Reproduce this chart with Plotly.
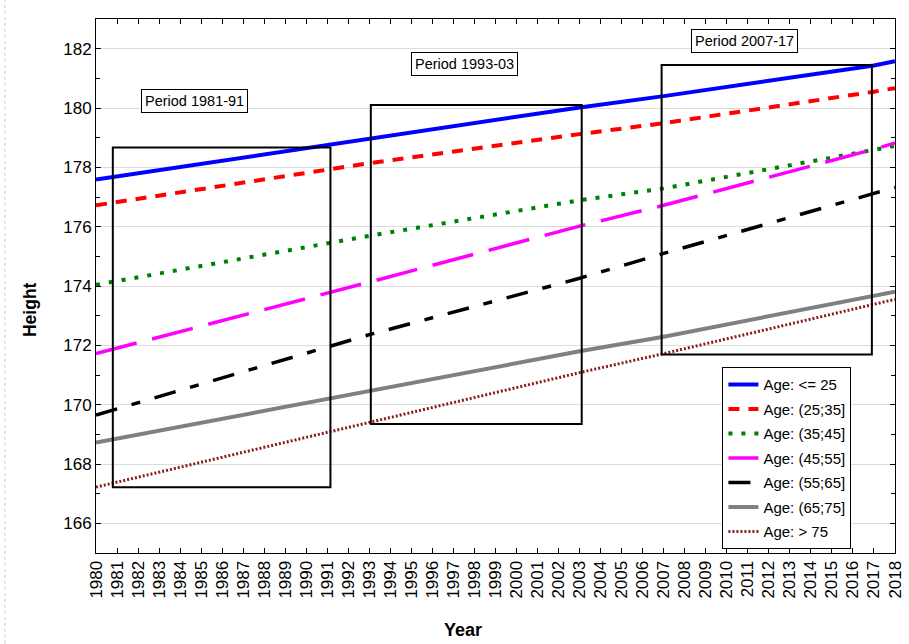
import plotly.graph_objects as go

# ---- data ----
key_years = [1980, 1993, 2003, 2007, 2017, 2018]
age_le25 = [177.59, 178.95, 180.02, 180.40, 181.43, 181.58]
age_25_35 = [176.72, 178.14, 179.12, 179.49, 180.55, 180.67]
age_35_45 = [174.04, 175.69, 176.89, 177.29, 178.59, 178.72]
age_45_55 = [171.72, 174.13, 176.02, 176.72, 178.61, 178.82]
age_55_65 = [169.65, 172.36, 174.26, 175.10, 177.12, 177.32]
age_65_75 = [168.72, 170.45, 171.80, 172.29, 173.66, 173.81]
age_gt75 = [167.22, 169.39, 171.08, 171.72, 173.38, 173.55]

series_names = ["Age: <= 25", "Age: (25;35]", "Age: (35;45]", "Age: (45;55]",
                "Age: (55;65]", "Age: (65;75]", "Age: > 75"]
series_values = [age_le25, age_25_35, age_35_45, age_45_55, age_55_65, age_65_75, age_gt75]

# period boxes (data units)
periods = ["Period 1981-91", "Period 1993-03", "Period 2007-17"]
box_x0 = [1980.8, 1993.07, 2006.9]
box_x1 = [1991.15, 2003.1, 2016.9]
box_y0 = [167.22, 169.35, 171.69]
box_y1 = [178.67, 180.10, 181.45]
label_x = [1984.68, 1997.52, 2010.84]
label_y = [180.22, 181.50, 182.25]

years_ticks = list(range(1980, 2019))

styles = [
    dict(color="#0000ff", width=4, dash="solid"),
    dict(color="#ff0000", width=4, dash="11px,9px"),
    dict(color="#008000", width=4, dash="4px,9px"),
    dict(color="#ff00ff", width=3.5, dash="42px,16px"),
    dict(color="#000000", width=3.5, dash="22px,15px,9px,15px"),
    dict(color="#808080", width=4, dash="solid"),
    dict(color="#8b1a1a", width=3, dash="2px,2px"),
]

FONT = "Arial, Liberation Sans, sans-serif"

fig = go.Figure()
for i, (name, vals, st) in enumerate(zip(series_names, series_values, styles)):
    fig.add_trace(go.Scatter(x=key_years, y=vals, mode="lines", name=name, line=st,
                             legendgroup=f"g{i}"))

for i in range(3):
    fig.add_shape(type="rect", x0=box_x0[i], x1=box_x1[i], y0=box_y0[i], y1=box_y1[i],
                  xref="x", yref="y", line=dict(color="black", width=2), fillcolor="rgba(0,0,0,0)")
    fig.add_annotation(x=label_x[i], y=label_y[i], xref="x", yref="y", text=periods[i],
                       showarrow=False, bordercolor="black", borderwidth=1, borderpad=3,
                       xanchor="center", yanchor="middle",
                       bgcolor="white", font=dict(family=FONT, size=14.5, color="black"))

# axis titles
fig.add_annotation(x=0.4593, y=-0.1442, xref="paper", yref="paper", text="<b>Year</b>",
                   showarrow=False, xanchor="center", yanchor="middle",
                   font=dict(family=FONT, size=18, color="black"))
fig.add_annotation(x=-0.0826, y=0.455, xref="paper", yref="paper", text="<b>Height</b>",
                   showarrow=False, textangle=-90, xanchor="center", yanchor="middle",
                   font=dict(family=FONT, size=17.5, color="black"))

# faint dotted page edge on the left
fig.add_shape(type="line", xref="paper", yref="paper", x0=-0.1139, x1=-0.1139, y0=-0.17, y1=1.035,
              line=dict(color="#c8c8c8", width=1, dash="dot"))

fig.update_layout(
    width=909, height=644,
    margin=dict(l=96, r=14, t=19, b=91),
    paper_bgcolor="white", plot_bgcolor="white",
    font=dict(family=FONT, color="black"),
    legend=dict(x=0.784, y=0.3477, xanchor="left", yanchor="top",
                bordercolor="black", borderwidth=1, bgcolor="white",
                font=dict(size=15), tracegroupgap=2),
    showlegend=True,
)
fig.update_xaxes(range=[1980, 2018], tickmode="array", tickvals=years_ticks,
                 ticktext=[str(y) for y in years_ticks], tickangle=-90,
                 tickfont=dict(size=17), ticks="inside", ticklen=5, tickcolor="black",
                 showline=True, linecolor="black", linewidth=1, mirror="allticks",
                 showgrid=False, zeroline=False, automargin=False)
fig.update_yaxes(range=[165, 183], tickmode="array", tickvals=list(range(166, 183, 2)),
                 tickfont=dict(size=17), ticks="inside", ticklen=5, tickcolor="black",
                 minor=dict(tickvals=list(range(165, 184, 1)), ticks="inside", ticklen=4,
                            tickcolor="black", showgrid=False),
                 showline=True, linecolor="black", linewidth=1, mirror="allticks",
                 showgrid=True, gridcolor="#dcdcdc", gridwidth=1, zeroline=False,
                 automargin=False)

fig.write_html("out.html", config={"displayModeBar": False},
               post_script="document.body.style.margin='0';")
